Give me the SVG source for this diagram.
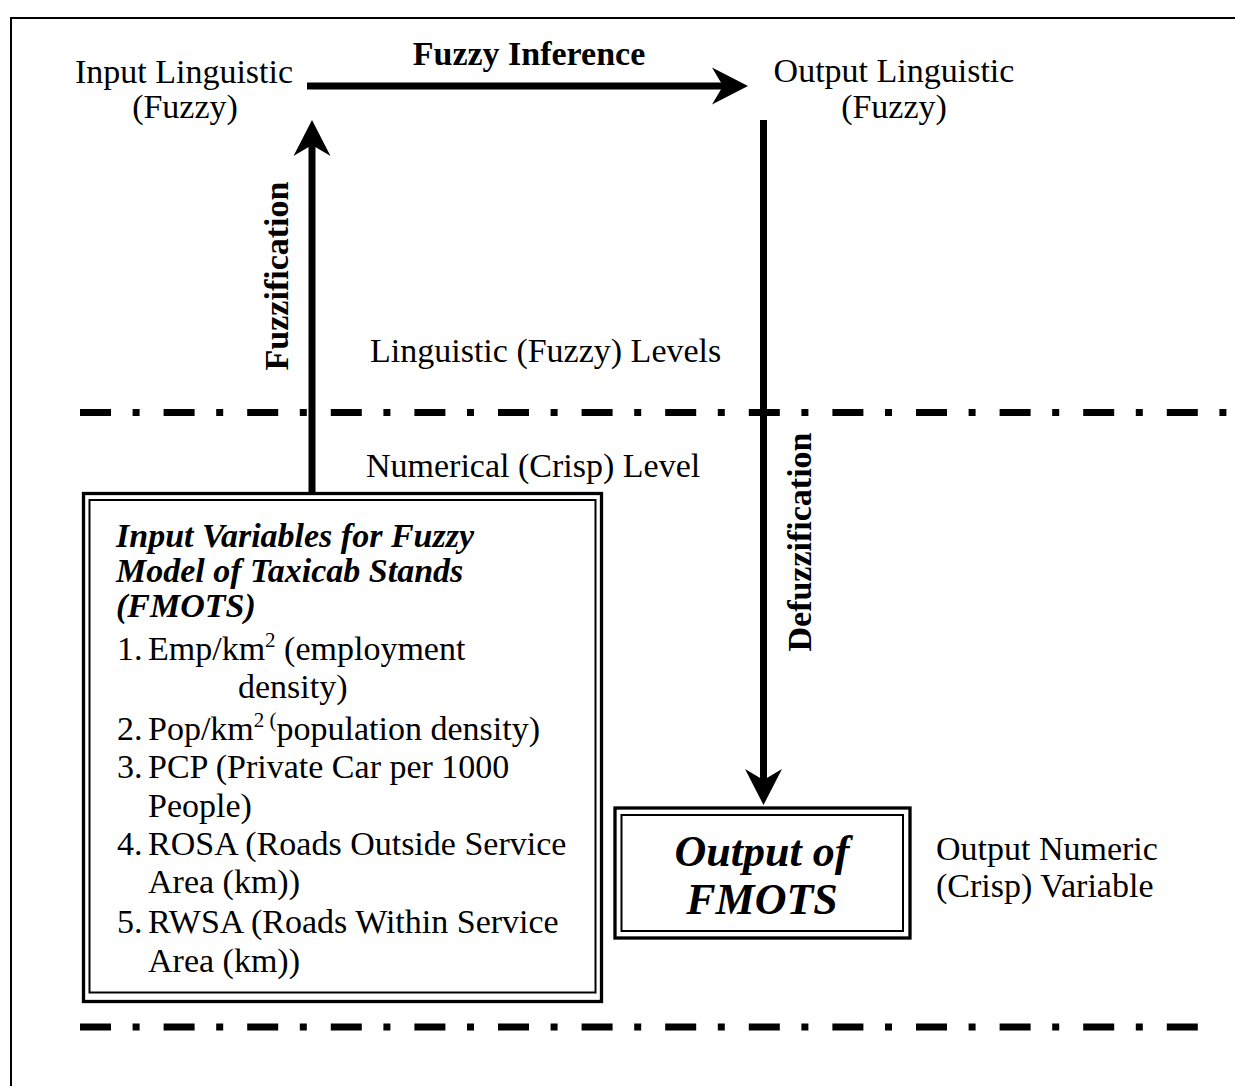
<svg xmlns="http://www.w3.org/2000/svg" width="1235" height="1086" viewBox="0 0 1235 1086">
<style>
text{font-family:"Liberation Serif","Times New Roman",serif;font-size:34px;fill:#000}
.b{font-weight:bold}
.bi{font-weight:bold;font-style:italic}
.mid{text-anchor:middle}
.big{font-size:44px}
.shaft{stroke:#000;stroke-width:7;fill:none}
.level{stroke:#000;stroke-width:7;stroke-dasharray:31 21.6 7 24;fill:none}
.frame{stroke:#000;stroke-width:2;fill:none}
.outer{stroke:#000;stroke-width:3.3;fill:none}
.inner{stroke:#000;stroke-width:2;fill:none}
</style>
<defs>
<marker id="ah" markerUnits="userSpaceOnUse" markerWidth="40" markerHeight="40" viewBox="-14 -20 40 40" refX="0" refY="0" orient="auto" overflow="visible">
<path d="M25,0 L-11,-18.5 L0,0 L-11,18.5 Z" fill="#000"/>
</marker>
</defs>
<rect width="1235" height="1086" fill="#fff"/>
<g id="frame">
<path class="frame" d="M11,1086 V18 H1235"/>
</g>
<g id="levels">
<line class="level" x1="80" y1="412.5" x2="1235" y2="412.5"/>
<line class="level" x1="80" y1="1027" x2="1198" y2="1027"/>
</g>
<g id="connectors">
<line class="shaft" x1="307" y1="86" x2="723" y2="86" marker-end="url(#ah)"/>
<line class="shaft" x1="312" y1="493" x2="312" y2="145" marker-end="url(#ah)"/>
<line class="shaft" x1="763.5" y1="120" x2="763.5" y2="780" marker-end="url(#ah)"/>
<text class="b mid" x="529" y="65">Fuzzy Inference</text>
<text class="b mid" transform="translate(288,276) rotate(-90)">Fuzzification</text>
<text class="b mid" transform="translate(811,542) rotate(-90)">Defuzzification</text>
</g>
<g id="input-linguistic">
<text class="mid" x="184" y="83">Input Linguistic</text>
<text class="mid" x="185" y="118">(Fuzzy)</text>
</g>
<g id="output-linguistic">
<text class="mid" x="894" y="82">Output Linguistic</text>
<text class="mid" x="894" y="118">(Fuzzy)</text>
</g>
<g id="level-labels">
<text x="370" y="362">Linguistic (Fuzzy) Levels</text>
<text x="366" y="477">Numerical (Crisp) Level</text>
</g>
<g id="input-variables">
<rect class="outer" x="83.5" y="493.5" width="518" height="508"/>
<rect class="inner" x="89.5" y="500" width="506" height="492.5"/>
<text class="bi" x="116" y="547">Input Variables for Fuzzy</text>
<text class="bi" x="116" y="582">Model of Taxicab Stands</text>
<text class="bi" x="116" y="617">(FMOTS)</text>
<text x="117" y="660">1.</text>
<text x="148" y="660">Emp/km<tspan dy="-13" font-size="21">2</tspan><tspan dy="13"> (employment</tspan></text>
<text x="238" y="698">density)</text>
<text x="117" y="740">2.</text>
<text x="148" y="740">Pop/km<tspan dy="-13" font-size="21">2 (</tspan><tspan dy="13">population density)</tspan></text>
<text x="117" y="778">3.</text>
<text x="148" y="778">PCP (Private Car per 1000</text>
<text x="148" y="817">People)</text>
<text x="117" y="855">4.</text>
<text x="148" y="855">ROSA (Roads Outside Service</text>
<text x="148" y="893">Area (km))</text>
<text x="117" y="933">5.</text>
<text x="148" y="933">RWSA (Roads Within Service</text>
<text x="148" y="972">Area (km))</text>
</g>
<g id="output-fmots">
<rect class="outer" x="615" y="808" width="295" height="130"/>
<rect class="inner" x="621.5" y="815" width="281.5" height="116"/>
<text class="bi mid big" x="762" y="866">Output of</text>
<text class="bi mid big" x="762" y="914">FMOTS</text>
</g>
<g id="output-numeric">
<text x="936" y="860">Output Numeric</text>
<text x="936" y="897">(Crisp) Variable</text>
</g>
</svg>
